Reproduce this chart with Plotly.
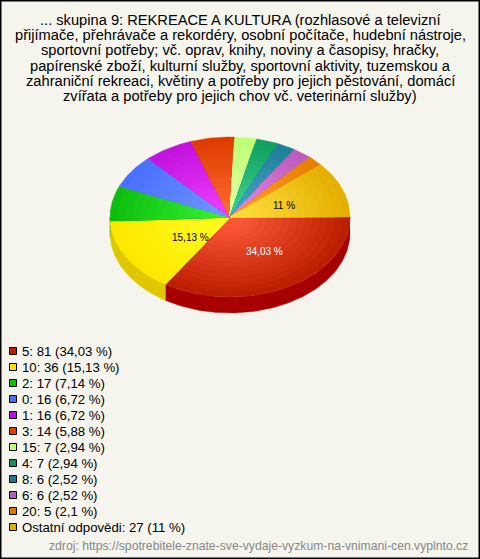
import math
import plotly.graph_objects as go

labels = ["5", "10", "2", "0", "1", "3", "15", "4", "8", "6", "20", "Ostatní odpovědi"]
values = [81, 36, 17, 16, 16, 14, 7, 7, 6, 6, 5, 27]
percents = ["34,03", "15,13", "7,14", "6,72", "6,72", "5,88", "2,94", "2,94", "2,52", "2,52", "2,1", "11"]
edge_colors = ["#BC1F00", "#FFE800", "#0EBE0E", "#4A70FF", "#C212DE", "#E03C00",
               "#BEFF74", "#0EA060", "#1F7F96", "#BC5CBC", "#E87E00", "#E4B000"]
center_colors = ["#FF5C3C", "#FFFF22", "#36F436", "#7098FF", "#F040FF", "#FF6C30",
                 "#E4FFA8", "#44D494", "#44A8C8", "#E488E4", "#FFA030", "#FFE040"]
side_colors = ["#A60000", "#E0C800", "#0A9A0A"]
legend_colors = ["#C02000", "#FFE000", "#10C010", "#4A70F0", "#C010E0", "#E04000",
                 "#C0FF70", "#109060", "#207890", "#B860B8", "#E07800", "#E0B000"]
title_lines = [
    "... skupina 9: REKREACE A KULTURA (rozhlasové a televizní",
    "přijímače, přehrávače a rekordéry, osobní počítače, hudební nástroje,",
    "sportovní potřeby; vč. oprav, knihy, noviny a časopisy, hračky,",
    "papírenské zboží, kulturní služby, sportovní aktivity, tuzemskou a",
    "zahraniční rekreaci, květiny a potřeby pro jejich pěstování, domácí",
    "zvířata a potřeby pro jejich chov vč. veterinární služby)",
]
source_text = "zdroj: https://spotrebitele-znate-sve-vydaje-vyzkum-na-vnimani-cen.vyplnto.cz"

BG = "#F5F5EE"
FONT = "Liberation Sans"
CX, CY, RX, RY, DEPTH = 230, 217, 120, 80, 16
BANDS = 16


def hex2rgb(h):
    return [int(h[i:i + 2], 16) for i in (1, 3, 5)]


def mix(a, b, t):
    ca, cb = hex2rgb(a), hex2rgb(b)
    return "rgb(%d,%d,%d)" % tuple(round(x + (y - x) * t) for x, y in zip(ca, cb))


def arc(a0, a1, scale=1.0, dy=0.0):
    n = max(2, int(abs(a1 - a0) / 1.0) + 1)
    xs, ys = [], []
    for i in range(n + 1):
        a = math.radians(a0 + (a1 - a0) * i / n)
        xs.append(CX + RX * scale * math.cos(a))
        ys.append(CY + dy + RY * scale * math.sin(a))
    return xs, ys


fig = go.Figure()


def poly(xs, ys, color):
    fig.add_trace(go.Scatter(x=xs, y=ys, mode="lines", fill="toself", fillcolor=color,
                             line=dict(width=0.4, color=color), hoverinfo="skip", showlegend=False))


total = sum(values)
angles = [0.0]
for v in values:
    angles.append(angles[-1] + 360.0 * v / total)

# side wall
for i in range(len(values)):
    a0, a1 = angles[i], min(angles[i + 1], 180.0)
    if a0 >= 180.0:
        break
    tx, ty = arc(a0, a1)
    bx, by = arc(a1, a0, dy=DEPTH)
    poly(tx + bx, ty + by, side_colors[i])

# top surface: nested wedges give the radial shading
for i in range(len(values)):
    a0, a1 = angles[i], angles[i + 1]
    for b in range(BANDS):
        s = 1.0 - b / BANDS
        t = b / (BANDS - 1)
        ax, ay = arc(a0, a1, scale=s)
        poly([CX] + ax + [CX], [CY] + ay + [CY], mix(edge_colors[i], center_colors[i], t))

# legend squares
fig.add_trace(go.Scatter(
    x=[13] * len(values), y=[351 + 16 * i for i in range(len(values))], mode="markers",
    marker=dict(symbol="square", size=7, color=legend_colors, line=dict(color="#000000", width=1)),
    hoverinfo="skip", showlegend=False))

ann = []
for i, line in enumerate(title_lines):
    ann.append(dict(x=240, y=20 + 15.2 * i, text=line, xanchor="center", yanchor="middle", showarrow=False,
                    font=dict(family=FONT, size=14.67, color="#000000")))
for i, (l, v, p) in enumerate(zip(labels, values, percents)):
    ann.append(dict(x=20, y=351 + 16 * i, text=f"{l}: {v} ({p} %)", xanchor="left", yanchor="middle",
                    showarrow=False, font=dict(family=FONT, size=13.2, color="#000000")))
ann.append(dict(x=470, y=546, text=source_text, xanchor="right", yanchor="middle", showarrow=False,
                font=dict(family=FONT, size=12.2, color="#888888")))
for x, y, txt, col in [(264.7, 251, "34,03 %", "#FFFFFF"), (190, 237, "15,13 %", "#000000"), (284, 205, "11 %", "#000000")]:
    ann.append(dict(x=x, y=y, text=txt, xanchor="center", yanchor="middle", showarrow=False,
                    font=dict(family=FONT, size=10, color=col)))

fig.update_layout(
    width=480, height=559, margin=dict(l=0, r=0, t=0, b=0), autosize=False,
    paper_bgcolor=BG, plot_bgcolor=BG, showlegend=False,
    xaxis=dict(range=[0, 480], visible=False, fixedrange=True),
    yaxis=dict(range=[559, 0], visible=False, fixedrange=True),
    annotations=ann,
    shapes=[dict(type="rect", xref="paper", yref="paper", x0=0, y0=0, x1=1, y1=1,
                 line=dict(color="#000000", width=3), fillcolor="rgba(0,0,0,0)")],
)
fig.write_html("out.html", config=dict(displayModeBar=False),
               post_script="document.body.style.margin='0';document.documentElement.style.overflow='hidden';")
